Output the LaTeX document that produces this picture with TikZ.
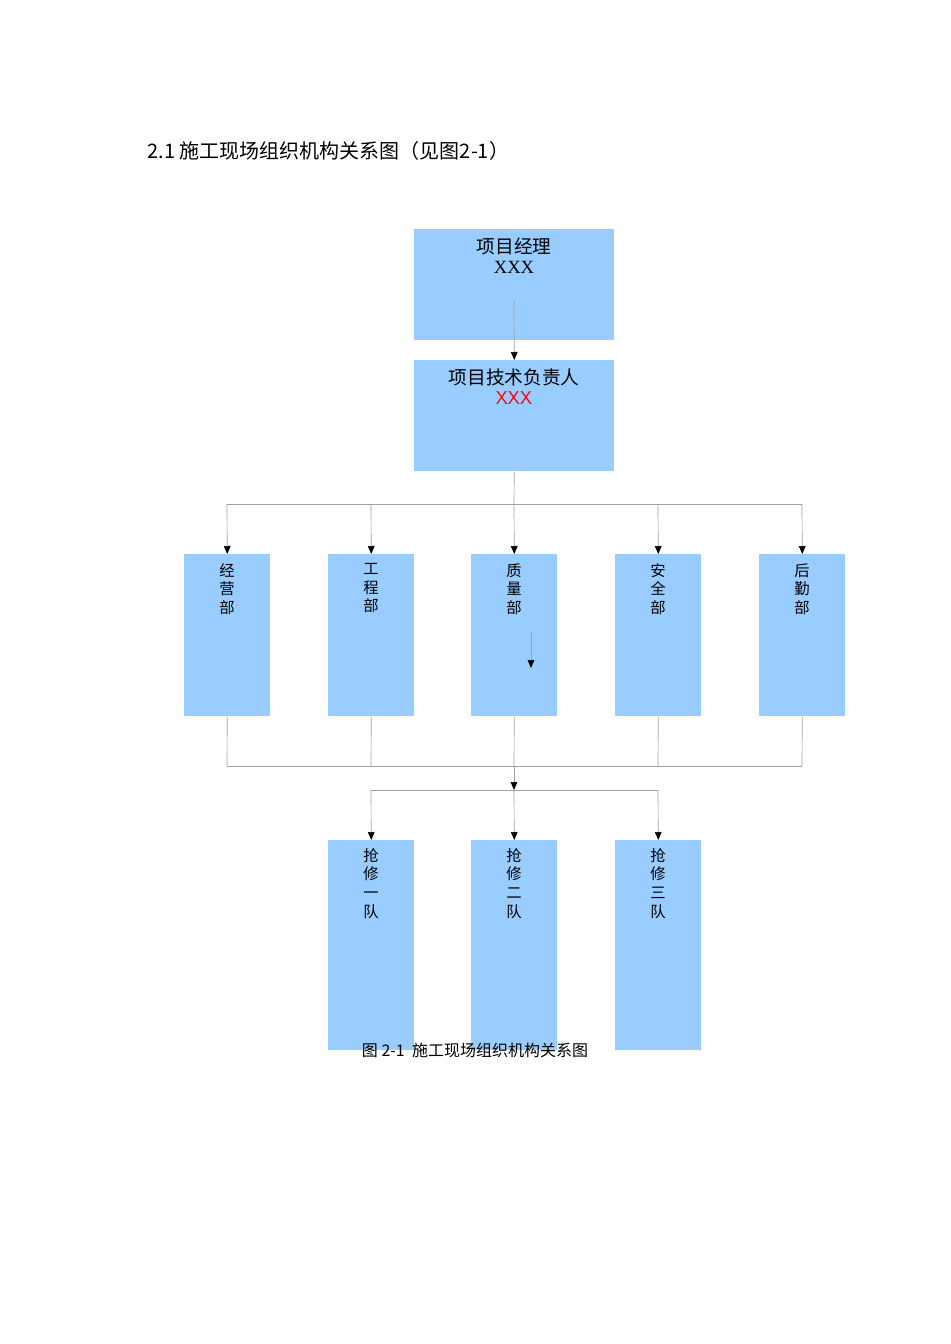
\documentclass[tikz,border=0pt]{standalone}
\usepackage{fontspec}
\newfontfamily\cjk{Noto Sans CJK SC}
\setmainfont{Liberation Serif}
\usetikzlibrary{arrows.meta}
\definecolor{bx}{HTML}{99CCFF}
\definecolor{ln}{HTML}{A0A0A0}
\begin{document}
\begin{tikzpicture}[x=0.75pt,y=-0.75pt,
  box/.style={fill=bx,draw=none,inner sep=0pt,anchor=north west},
  conn/.style={draw=ln,line width=0.5pt},
  arr/.style={conn,-{Triangle[length=6pt,width=5pt,black]}},
  vt/.style={font=\cjk\fontsize{11.5}{14}\selectfont,align=center,anchor=north,inner sep=0pt}]
\useasboundingbox (0,0) rectangle (950,1344);
\node[anchor=west,font=\cjk\fontsize{15}{18}\selectfont] (title) at (143,151) {2.1 施工现场组织机构关系图（见图2-1）};
% top boxes
\node[box,minimum width=150pt,minimum height=83.25pt] (pm) at (414,229) {};
\node[font=\cjk\fontsize{14}{17}\selectfont,anchor=north,align=center,inner sep=0pt] (pmt) at (514,238) {项目经理\\[-2pt]{\rmfamily XXX}};
\node[box,minimum width=150pt,minimum height=83.25pt] (te) at (414,360) {};
\node[font=\cjk\fontsize{14}{17}\selectfont,anchor=north,align=center,inner sep=0pt] (tet) at (514,369) {项目技术负责人\\[-2pt]{\color{red}\sffamily XXX}};
\coordinate (pms) at (514,300);
\draw[arr] (pms) -- (te.north);
% departments
\coordinate (tb) at (514,504);
\draw[conn] (te.south) -- (tb);
\coordinate (hl) at (227,504); \coordinate (hr) at (802,504);
\draw[conn] (hl) -- (hr);
\foreach \n/\x/\t in {d1/227/经\\营\\部, d2/371/工\\程\\部, d3/514/质\\量\\部, d4/658/安\\全\\部, d5/802/后\\勤\\部}{
  \node[box,minimum width=64.5pt,minimum height=121.5pt] (\n) at (\x-43,554) {};
  \node[vt] (\n t) at (\x,563) {\t};
  \coordinate (\n u) at (\x,504);
  \coordinate (\n l) at (\x,766);
  \draw[arr] (\n u) -- (\n.north);
  \draw[conn] (\n.south) -- (\n l);
}
\coordinate (sa) at (531,632); \coordinate (sb) at (531,668);
\draw[arr] (sa) -- (sb);
\draw[conn] (d1l) -- (d5l);
\coordinate (m1) at (514,766); \coordinate (m2) at (514,790);
\draw[arr] (m1) -- (m2);
\coordinate (gl) at (371,790); \coordinate (gr) at (658,790);
\draw[conn] (gl) -- (gr);
\foreach \n/\x/\t in {q1/371/抢\\修\\一\\队, q2/514/抢\\修\\二\\队, q3/658/抢\\修\\三\\队}{
  \node[box,minimum width=64.5pt,minimum height=157.5pt] (\n) at (\x-43,840) {};
  \node[vt] (\n t) at (\x,848) {\t};
  \coordinate (\n u) at (\x,790);
  \draw[arr] (\n u) -- (\n.north);
}
\node[font=\cjk\fontsize{12}{14}\selectfont] (cap) at (475,1050) {图 2-1\ \ 施工现场组织机构关系图};
\end{tikzpicture}
\end{document}
